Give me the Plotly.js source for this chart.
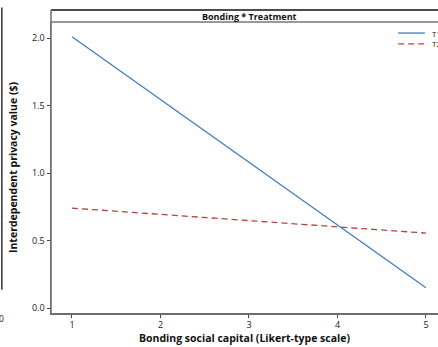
<!DOCTYPE html>
<html>
<head>
<meta charset="utf-8">
<script src="https://cdn.plot.ly/plotly-3.0.1.min.js"></script>
<style>html,body{margin:0;padding:0;background:#fff;}#chart{width:438px;height:347px;}</style>
</head>
<body>
<div id="chart"></div>
<script>
var bonding = [1, 5];
var t1Values = [2.01, 0.15];
var t2Values = [0.74, 0.555];
var seriesNames = ['T1', 'T2'];
var xTicks = [1, 2, 3, 4, 5];
var yTicks = [0.0, 0.5, 1.0, 1.5, 2.0];
var yTickLabels = ['0.0', '0.5', '1.0', '1.5', '2.0'];

var FONT = 'Open Sans, Noto Sans, sans-serif';
var blue = '#3d7cc4';
var red = '#b5443f';

var traces = [
  {x: bonding, y: t1Values, name: seriesNames[0], mode: 'lines', type: 'scatter',
   line: {color: blue, width: 1.3, dash: 'solid'}, showlegend: false, hoverinfo: 'skip'},
  {x: bonding, y: t2Values, name: seriesNames[1], mode: 'lines', type: 'scatter',
   line: {color: red, width: 1.3, dash: '6px,4px'}, showlegend: false, hoverinfo: 'skip'}
];

var layout = {
  width: 438, height: 347,
  margin: {l: 51, r: 0, t: 22, b: 34, pad: 0},
  paper_bgcolor: '#ffffff', plot_bgcolor: '#ffffff',
  font: {family: FONT, color: '#222', size: 9},
  xaxis: {
    range: [0.763, 5.136], tickvals: xTicks, ticktext: xTicks.map(String),
    showgrid: false, zeroline: false, showline: true, linecolor: '#6e6e6e', linewidth: 1.5,
    ticks: 'outside', ticklen: 3, tickwidth: 1, tickcolor: '#444',
    tickfont: {family: FONT, size: 9, color: '#222'},
    title: {text: '<b>Bonding social capital (Likert-type scale)</b>', font: {family: FONT, size: 10.5, color: '#111'}, standoff: 4}
  },
  yaxis: {
    range: [-0.037, 2.119], tickvals: yTicks, ticktext: yTickLabels,
    showgrid: false, zeroline: false, showline: true, linecolor: '#6e6e6e', linewidth: 1.5,
    ticks: 'outside', ticklen: 3, tickwidth: 1, tickcolor: '#444',
    tickfont: {family: FONT, size: 9, color: '#222'},
    title: {text: '<b>Interdependent privacy value ($)</b>', font: {family: FONT, size: 10.5, color: '#111'}, standoff: 12}
  },
  shapes: [
    {type: 'rect', xref: 'paper', yref: 'paper', x0: 0, x1: 1.05, y0: 1, y1: 1.041,
     line: {width: 0}, fillcolor: '#ffffff', layer: 'below'},
    {type: 'line', xref: 'paper', yref: 'paper', x0: 0, x1: 1.05, y0: 1.041, y1: 1.041,
     line: {color: '#111', width: 1.5}},
    {type: 'line', xref: 'paper', yref: 'paper', x0: 0, x1: 1.05, y0: 1.0, y1: 1.0,
     line: {color: '#777', width: 1.5}},
    {type: 'line', xref: 'paper', yref: 'paper', x0: 0, x1: 0, y0: 0, y1: 1.041,
     line: {color: '#6e6e6e', width: 1.5}},
    {type: 'line', xref: 'paper', yref: 'paper', x0: -0.127, x1: -0.127, y0: 0.08, y1: 1.05,
     line: {color: '#333', width: 1.5}},
    {type: 'line', xref: 'paper', yref: 'paper', x0: 0.897, x1: 0.966, y0: 0.962, y1: 0.962,
     line: {color: blue, width: 1.3}},
    {type: 'line', xref: 'paper', yref: 'paper', x0: 0.897, x1: 0.966, y0: 0.925, y1: 0.925,
     line: {color: red, width: 1.3, dash: '6px,4px'}}
  ],
  annotations: [
    {text: '<b>Bonding * Treatment</b>', xref: 'paper', yref: 'paper', x: 0.512, y: 1.0205,
     xanchor: 'center', yanchor: 'middle', showarrow: false, font: {family: FONT, size: 9, color: '#111'}},
    {text: seriesNames[0], xref: 'paper', yref: 'paper', x: 0.98, y: 0.962, xanchor: 'left', yanchor: 'middle',
     showarrow: false, font: {family: FONT, size: 8, color: '#222'}},
    {text: seriesNames[1], xref: 'paper', yref: 'paper', x: 0.98, y: 0.925, xanchor: 'left', yanchor: 'middle',
     showarrow: false, font: {family: FONT, size: 8, color: '#222'}},
    {text: '0', xref: 'paper', yref: 'paper', x: -0.127, y: -0.02, xanchor: 'center', yanchor: 'middle',
     showarrow: false, font: {family: FONT, size: 8.5, color: '#222'}}
  ]
};

Plotly.newPlot('chart', traces, layout, {staticPlot: true, displayModeBar: false});
</script>
</body>
</html>
